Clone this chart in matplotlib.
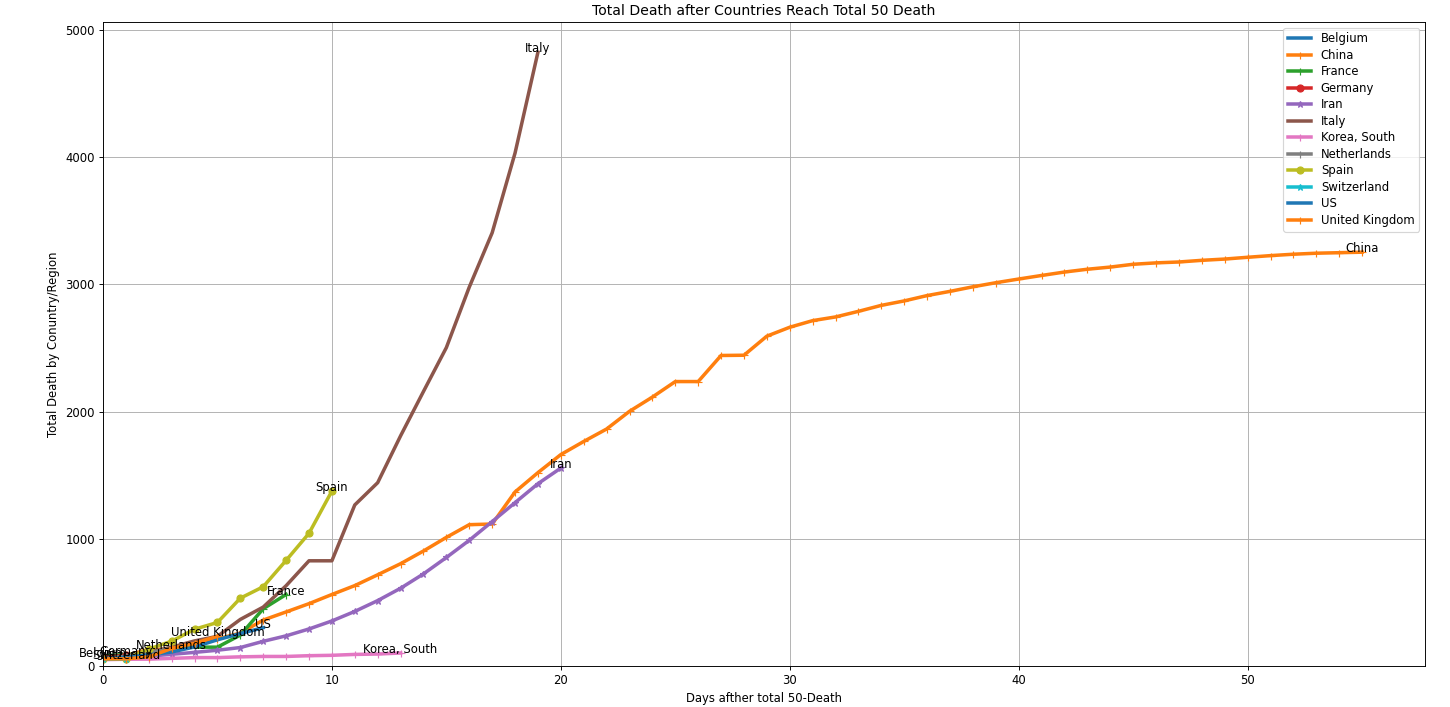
import numpy as np
import matplotlib.pyplot as plt

# total deaths per day, day 0 = first day with >= 50 deaths
countries = ['Belgium', 'China', 'France', 'Germany', 'Iran', 'Italy',
             'Korea, South', 'Netherlands', 'Spain', 'Switzerland', 'US',
             'United Kingdom']

belgium = [67]
china = [56, 82, 131, 133, 171, 213, 259, 361, 425, 490, 562, 632, 717, 804,
         904, 1011, 1111, 1116, 1368, 1520, 1662, 1765, 1863, 2002, 2114,
         2236, 2236, 2441, 2443, 2593, 2663, 2715, 2744, 2788, 2835, 2870,
         2912, 2945, 2981, 3013, 3042, 3070, 3097, 3119, 3136, 3158, 3169,
         3176, 3189, 3199, 3213, 3226, 3237, 3245, 3249, 3253]
france = [79, 91, 91, 148, 148, 148, 243, 450, 562]
germany = [67, 84]
iran = [54, 66, 77, 92, 107, 124, 145, 194, 237, 291, 354, 429, 514, 611,
        724, 853, 988, 1135, 1284, 1433, 1556]
italy = [52, 79, 107, 148, 197, 233, 366, 463, 631, 827, 827, 1266, 1441,
         1809, 2158, 2503, 2978, 3405, 4032, 4825]
korea = [50, 53, 54, 60, 66, 66, 72, 75, 75, 81, 84, 91, 94, 102]
netherlands = [58, 76, 106, 136]
spain = [54, 55, 133, 195, 289, 342, 533, 623, 830, 1043, 1375]
switzerland = [56, 56]
us = [57, 69, 87, 110, 150, 206, 255, 301]
uk = [56, 56, 72, 138, 178, 234]

series = [belgium, china, france, germany, iran, italy, korea, netherlands,
          spain, switzerland, us, uk]
markers = ['', '+', '+', 'o', '*']

DPI = 84
fig = plt.figure(figsize=(1450/DPI, 707/DPI), dpi=DPI)
ax = fig.add_axes([0.071, 0.058, 0.9118, 0.9111])

for i, (name, vals) in enumerate(zip(countries, series)):
    days = np.arange(len(vals))
    ax.plot(days, vals, marker=markers[i % 5], linewidth=3, label=name)
    ax.text(days[-1], vals[-1], name, ha='center')

ax.set_title('Total Death after Countries Reach Total 50 Death')
ax.set_xlabel('Days afther total 50-Death')
ax.set_ylabel('Total Death by Conuntry/Region')
ax.set_xlim(left=0)
ax.set_ylim(bottom=0)
ax.grid(True)
ax.legend(loc='upper right', labelspacing=0.3)

fig.savefig('out.png', dpi=DPI)
